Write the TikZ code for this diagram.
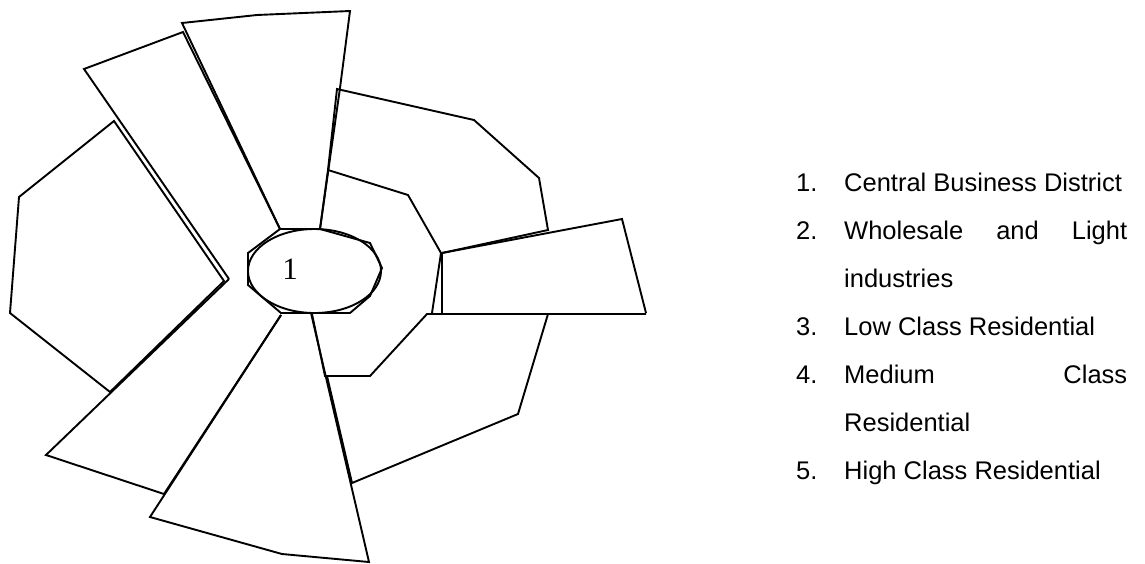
\documentclass[tikz,border=0pt]{standalone}
\usepackage{fontspec}
\setmainfont{Liberation Sans}
\newfontfamily\serifnum{Liberation Serif}
\begin{document}
\begin{tikzpicture}[x=1pt,y=-1pt,
  zone/.style={draw=black, line width=1.9pt, line join=miter},
  legend/.style={anchor=base west, inner sep=0pt, font=\fontsize{25.5}{30}\selectfont}]
\useasboundingbox (0,0) rectangle (1145,563);
% top sector
\draw[zone] (280,229) -- (182,23) -- (257,15) -- (350,11) -- (340,88) -- (320,229);
% narrow upper-left sector
\draw[zone] (229,279) -- (84,69) -- (183,32) -- (280,229);
% big left sector
\draw[zone] (224,281) -- (114,121) -- (19,197) -- (10,313) -- (110,392) -- cycle;
% lower-left sector
\draw[zone] (229,279) -- (46,455) -- (164,494) -- (281,315);
% bottom sector
\draw[zone] (281,315) -- (150,517) -- (282,554) -- (369,562) -- (311,313);
% outer lower sector
\draw[zone] (327,376) -- (352,483) -- (518,414) -- (548,314);
% inner lower sector
\draw[zone] (312,314) -- (325,376) -- (370,376) -- (427,314) -- (646,314);
% right sector
\draw[zone] (442,313) -- (442,253) -- (622,219) -- (646,313);
% inner upper-right sector
\draw[zone] (320,229) -- (328,170) -- (408,195) -- (441,253) -- (432,313);
% outer upper-right sector
\draw[zone] (328,170) -- (337,89) -- (474,120) -- (539,178) -- (548,230) -- (442,253);
% CBD
\draw[zone] (280,229) -- (320,229) -- (370,243) -- (382,268) -- (370,296) -- (350,313) -- (281,313) -- (248,285) -- (248,253) -- cycle;
\draw[zone] (314.5,271) ellipse [x radius=66.5, y radius=42];
\node[anchor=base, inner sep=0pt, font=\serifnum\fontsize{31}{31}\selectfont] (cbd) at (290,279) {1};
% legend
\node[legend] (n1) at (796,191) {1.};
\node[legend] (t1) at (844,191) {Central Business District};
\node[legend] (n2) at (796,239) {2.};
\node[legend] (t2) at (844,239) {\makebox[283pt][s]{Wholesale and Light}};
\node[legend] (t2b) at (844,287) {industries};
\node[legend] (n3) at (796,335) {3.};
\node[legend] (t3) at (844,335) {Low Class Residential};
\node[legend] (n4) at (796,383) {4.};
\node[legend] (t4) at (844,383) {\makebox[283pt][s]{Medium Class}};
\node[legend] (t4b) at (844,431) {Residential};
\node[legend] (n5) at (796,479) {5.};
\node[legend] (t5) at (844,479) {High Class Residential};
\end{tikzpicture}
\end{document}
